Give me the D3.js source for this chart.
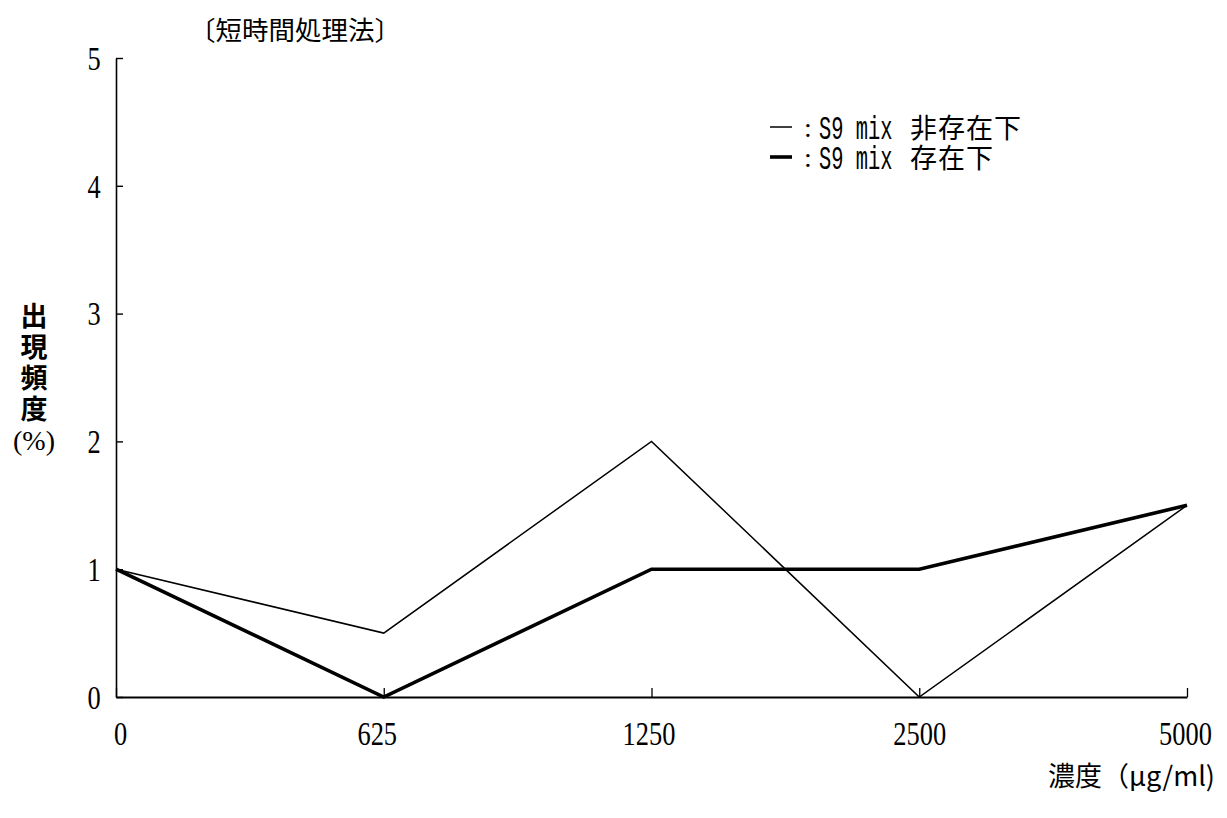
<!DOCTYPE html>
<html>
<head>
<meta charset="utf-8">
<script src="https://cdn.jsdelivr.net/npm/d3@7"></script>
<style>
  html, body { margin: 0; padding: 0; background: #fff; }
  svg { display: block; }
  .num { font-family: "Liberation Serif", "DejaVu Serif", serif; }
  .mono { font-family: "Liberation Mono", "DejaVu Sans Mono", monospace; }
  .jp { font-family: "Noto Sans CJK JP", sans-serif; }
</style>
</head>
<body>
<svg id="chart" width="1227" height="818"></svg>
<script>
// Concentrations tested (µg/ml) and incidence (%) per condition
const concentrations = ["0", "625", "1250", "2500", "5000"];
const withoutS9 = [1, 0.5, 2, 0, 1.5];   // S9 mix 非存在下
const withS9 = [1, 0, 1, 1, 1.5];        // S9 mix 存在下
const yTicks = [0, 1, 2, 3, 4, 5];

const svg = d3.select("#chart");
const margin = { left: 116, right: 40, top: 58, bottom: 121 };
const W = 1227, H = 818;

const x = d3.scalePoint()
  .domain(concentrations)
  .range([margin.left, W - margin.right]);
const y = d3.scaleLinear()
  .domain([0, 5])
  .range([H - margin.bottom, margin.top]);

// tall, narrow serif digits
const squeeze = 0.8;
const numSize = 33;

// y axis: ticks point into the plot
const yAxis = svg.append("g")
  .attr("transform", `translate(${margin.left},0)`)
  .call(d3.axisLeft(y).tickValues(yTicks).tickFormat(d3.format("d"))
    .tickSizeInner(-7).tickSizeOuter(0).tickPadding(0));
yAxis.select(".domain").attr("stroke", "#000").attr("stroke-width", 1.6);
yAxis.selectAll(".tick line").attr("stroke", "#000").attr("stroke-width", 1.4);
yAxis.selectAll(".tick text")
  .attr("class", "num")
  .attr("font-size", numSize)
  .attr("fill", "#000")
  .attr("text-anchor", "middle")
  .attr("x", 0)
  .attr("dy", "0.34em")
  .attr("transform", `translate(-22,0) scale(${squeeze},1)`);

// x axis: ticks point up into the plot
const xOffsets = [4, -7, -3, 0, -2];
const xAxis = svg.append("g")
  .attr("transform", `translate(0,${y(0)})`)
  .call(d3.axisBottom(x).tickSizeInner(-9).tickSizeOuter(0).tickPadding(0));
xAxis.select(".domain").attr("stroke", "#000").attr("stroke-width", 2);
xAxis.selectAll(".tick line").attr("stroke", "#000").attr("stroke-width", 1.3);
xAxis.selectAll(".tick text")
  .attr("class", "num")
  .attr("font-size", numSize)
  .attr("fill", "#000")
  .attr("y", 0)
  .attr("dy", 0)
  .attr("transform", (d, i) => `translate(${xOffsets[i]},48) scale(${squeeze},1)`);

// series lines
const line = d3.line()
  .x((d, i) => x(concentrations[i]))
  .y(d => y(d));

svg.append("path")
  .datum(withoutS9)
  .attr("d", line)
  .attr("fill", "none")
  .attr("stroke", "#000")
  .attr("stroke-width", 1.5)
  .attr("stroke-linejoin", "miter");

svg.append("path")
  .datum(withS9)
  .attr("d", line)
  .attr("fill", "none")
  .attr("stroke", "#000")
  .attr("stroke-width", 3.6)
  .attr("stroke-linejoin", "miter");

// title
svg.append("text")
  .attr("class", "jp")
  .attr("x", 189).attr("y", 40)
  .attr("font-size", 26.5)
  .text("〔短時間処理法〕");

// legend: two rows, each column set as one text block
const legend = [
  { sample: "S9 mix", label: "非存在下", width: 1.5 },
  { sample: "S9 mix", label: "存在下", width: 3.6 }
];
const rowY = (i) => 127 + i * 30;
const lg = svg.append("g");

lg.selectAll("line")
  .data(legend)
  .join("line")
  .attr("x1", 770).attr("x2", 792)
  .attr("y1", (d, i) => rowY(i)).attr("y2", (d, i) => rowY(i))
  .attr("stroke", "#000")
  .attr("stroke-width", d => d.width);

lg.append("text")
  .attr("class", "num")
  .attr("font-size", 28)
  .selectAll("tspan")
  .data(legend)
  .join("tspan")
  .attr("x", 804)
  .attr("y", (d, i) => rowY(i) + 10)
  .text(":");

lg.append("text")
  .attr("class", "mono")
  .attr("font-size", 34)
  .attr("transform", "translate(819,0) scale(0.6,1)")
  .selectAll("tspan")
  .data(legend)
  .join("tspan")
  .attr("x", 0)
  .attr("y", (d, i) => rowY(i) + 12)
  .text(d => d.sample);

lg.append("text")
  .attr("class", "jp")
  .attr("font-size", 27)
  .attr("letter-spacing", 1)
  .selectAll("tspan")
  .data(legend)
  .join("tspan")
  .attr("x", 910)
  .attr("y", (d, i) => rowY(i) + 11)
  .text(d => d.label);

// y axis title, stacked vertically
svg.append("text")
  .attr("class", "jp")
  .attr("x", 34).attr("y", 302)
  .attr("writing-mode", "vertical-rl")
  .attr("font-size", 27)
  .attr("font-weight", "bold")
  .attr("letter-spacing", 4)
  .text("出現頻度");
svg.append("text")
  .attr("class", "num")
  .attr("x", 34).attr("y", 450)
  .attr("text-anchor", "middle")
  .attr("font-size", 28)
  .text("(%)");

// x axis title
svg.append("text")
  .attr("class", "jp")
  .attr("x", 1215).attr("y", 786)
  .attr("text-anchor", "end")
  .attr("font-size", 27)
  .text("濃度（μg/ml)");
</script>
</body>
</html>
